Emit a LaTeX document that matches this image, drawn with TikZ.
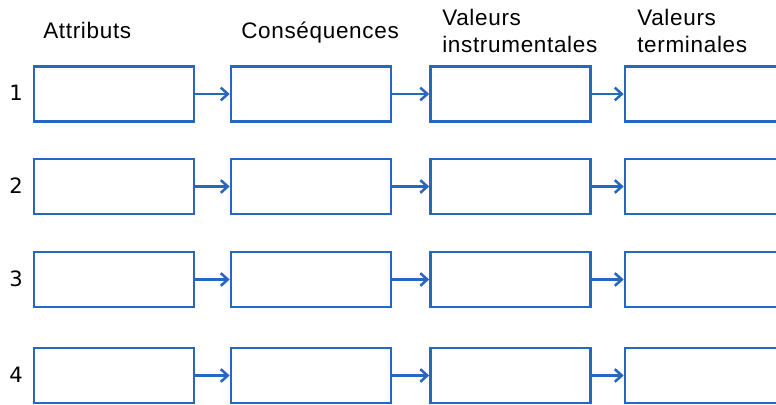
\documentclass[tikz,border=0pt]{standalone}
\usepackage{fontspec}
\setmainfont[LetterSpace=3]{Liberation Sans}
\newfontfamily\digitfont{DejaVu Sans}
\usepackage{tikz}
\usetikzlibrary{arrows.meta}
\definecolor{boxblue}{RGB}{38,104,192}

\begin{document}
\begin{tikzpicture}[x=0.025cm,y=-0.025cm,
  box/.style={draw=boxblue,line width=1.8pt,minimum width=4cm,minimum height=1.375cm,inner sep=0pt},
  link/.style={draw=boxblue,line width=1.8pt,-{Straight Barb[length=5pt,width=9pt]}},
  head/.style={anchor=base west,inner sep=0pt,align=left,font=\fontsize{16}{19.2}\selectfont},
  num/.style={inner sep=0pt,font=\digitfont\fontsize{15}{18}\selectfont}]
  \useasboundingbox (0,0) rectangle (776,405);
  \clip (0,0) rectangle (776,405);

  %headings
  \node[head] (hattr) at (43,39) {Attributs};
  \node[head] (hcons) at (241,39) {Conséquences};
  \node[head] (hinst) at (442,53) {Valeurs\\instrumentales};
  \node[head] (hterm) at (637,53) {Valeurs\\terminales};

  %row numbers
  \node[num] (n1) at (16,93) {1};
  \node[num] (n2) at (16,186) {2};
  \node[num] (n3) at (16,279) {3};
  \node[num] (n4) at (16,375) {4};

  %boxes
  \node[box] (a1) at (114,94) {};
  \node[box] (c1) at (311,94) {};
  \node[box] (i1) at (510.5,94) {};
  \node[box] (t1) at (705,94) {};
  \node[box] (a2) at (114,186.5) {};
  \node[box] (c2) at (311,186.5) {};
  \node[box] (i2) at (510.5,186.5) {};
  \node[box] (t2) at (705,186.5) {};
  \node[box] (a3) at (114,279.5) {};
  \node[box] (c3) at (311,279.5) {};
  \node[box] (i3) at (510.5,279.5) {};
  \node[box] (t3) at (705,279.5) {};
  \node[box] (a4) at (114,375.5) {};
  \node[box] (c4) at (311,375.5) {};
  \node[box] (i4) at (510.5,375.5) {};
  \node[box] (t4) at (705,375.5) {};

  %arrows
  \draw[link] (a1) -- (c1);
  \draw[link] (c1) -- (i1);
  \draw[link] (i1) -- (t1);
  \draw[link] (a2) -- (c2);
  \draw[link] (c2) -- (i2);
  \draw[link] (i2) -- (t2);
  \draw[link] (a3) -- (c3);
  \draw[link] (c3) -- (i3);
  \draw[link] (i3) -- (t3);
  \draw[link] (a4) -- (c4);
  \draw[link] (c4) -- (i4);
  \draw[link] (i4) -- (t4);
\end{tikzpicture}
\end{document}
